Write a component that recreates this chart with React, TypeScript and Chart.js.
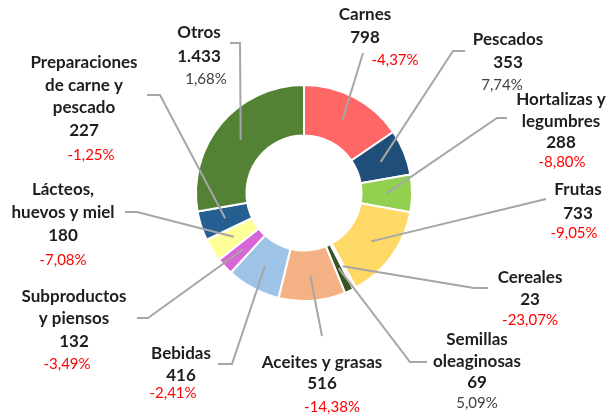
import { useEffect, useRef } from "react";
import { Chart, registerables } from "chart.js";

Chart.register(...registerables);

const categories = [
  "Carnes",
  "Pescados",
  "Hortalizas y legumbres",
  "Frutas",
  "Cereales",
  "Semillas oleaginosas",
  "Aceites y grasas",
  "Bebidas",
  "Subproductos y piensos",
  "Lácteos, huevos y miel",
  "Preparaciones de carne y pescado",
  "Otros",
];
const values = [798, 353, 288, 733, 23, 69, 516, 416, 132, 180, 227, 1433];
const valueLabels = ["798", "353", "288", "733", "23", "69", "516", "416", "132", "180", "227", "1.433"];
const changes = ["-4,37%", "7,74%", "-8,80%", "-9,05%", "-23,07%", "5,09%", "-14,38%", "-2,41%", "-3,49%", "-7,08%", "-1,25%", "1,68%"];
const colors = [
  "#FF6666",
  "#1F4E79",
  "#92D050",
  "#FFD966",
  "#DAE3F3",
  "#375623",
  "#F4B183",
  "#9DC3E6",
  "#D966D9",
  "#FFFF99",
  "#255E91",
  "#548235",
];

// label layout: name lines (word wrapping), line centres, change label centre, leader start points
type Layout = { name: string[]; x: number; ys: number[]; pct: [number, number]; path: [number, number][] };
const layout: Layout[] = [
  { name: ["Carnes"], x: 365, ys: [15, 38], pct: [395, 60], path: [[363, 53]] },
  { name: ["Pescados"], x: 508, ys: [40, 63], pct: [502, 85], path: [[465, 51], [453, 51]] },
  { name: ["Hortalizas y", "legumbres"], x: 561, ys: [100, 122, 143], pct: [562, 162], path: [[507, 118], [497, 118]] },
  { name: ["Frutas"], x: 578, ys: [190, 214], pct: [574, 233], path: [[546, 199]] },
  { name: ["Cereales"], x: 530, ys: [278, 300], pct: [530, 320], path: [[488, 288], [474, 288]] },
  { name: ["Semillas", "oleaginosas"], x: 477, ys: [340, 362, 383], pct: [477, 403], path: [[427, 362], [410, 362]] },
  { name: ["Aceites y grasas"], x: 322, ys: [363, 384], pct: [332, 407], path: [[322, 336]] },
  { name: ["Bebidas"], x: 181, ys: [354, 376], pct: [173, 393], path: [[218, 364], [232, 364]] },
  { name: ["Subproductos", "y piensos"], x: 74, ys: [297, 319, 342], pct: [67, 364], path: [[137, 318], [148, 318]] },
  { name: ["Lácteos,", "huevos y miel"], x: 63, ys: [190, 213, 236], pct: [63, 260], path: [[125, 212], [137, 212]] },
  { name: ["Preparaciones", "de carne y", "pescado"], x: 84, ys: [63, 86, 108, 131], pct: [91, 155], path: [[147, 95], [160, 95]] },
  { name: ["Otros"], x: 199, ys: [33, 57], pct: [206, 79], path: [[230, 43], [240, 43]] },
];

const FONT = "Lato, 'Open Sans', sans-serif";

const calloutPlugin = {
  id: "callouts",
  afterDatasetsDraw(chart: any) {
    const ctx = chart.ctx as CanvasRenderingContext2D;
    const meta = chart.getDatasetMeta(0);
    ctx.save();
    ctx.strokeStyle = "#A6A6A6";
    ctx.lineWidth = 2;
    meta.data.forEach((arc: any, i: number) => {
      const p = arc.getCenterPoint();
      const path = layout[i].path;
      ctx.beginPath();
      ctx.moveTo(path[0][0], path[0][1]);
      for (let k = 1; k < path.length; k++) ctx.lineTo(path[k][0], path[k][1]);
      ctx.lineTo(p.x, p.y);
      ctx.stroke();
    });
    ctx.textAlign = "center";
    ctx.textBaseline = "middle";
    layout.forEach((l, i) => {
      ctx.fillStyle = "#1E1E1E";
      ctx.font = `bold 17px ${FONT}`;
      const lines = [...l.name, valueLabels[i]];
      lines.forEach((t, k) => ctx.fillText(t, l.x, l.ys[k]));
      const c = changes[i];
      ctx.font = `15px ${FONT}`;
      ctx.fillStyle = c.startsWith("-") ? "#FF0000" : "#404040";
      ctx.fillText(c, l.pct[0], l.pct[1]);
    });
    ctx.restore();
  },
};

export default function App() {
  const ref = useRef<HTMLCanvasElement>(null);
  useEffect(() => {
    if (!ref.current) return;
    const chart = new Chart(ref.current, {
      type: "doughnut",
      data: {
        labels: categories,
        datasets: [
          {
            data: values,
            backgroundColor: colors,
            borderColor: "#FFFFFF",
            borderWidth: 2,
          },
        ],
      },
      options: {
        responsive: false,
        animation: false,
        radius: 108,
        cutout: 57,
        layout: { padding: { left: 196, right: 196, top: 85, bottom: 119 } },
        plugins: { legend: { display: false }, tooltip: { enabled: false } },
      } as any,
      plugins: [calloutPlugin],
    });
    return () => chart.destroy();
  }, []);
  return (
    <div style={{ position: "fixed", left: 0, top: 0, width: 608, height: 420, background: "#fff" }}>
      <canvas ref={ref} width={608} height={420} />
    </div>
  );
}
